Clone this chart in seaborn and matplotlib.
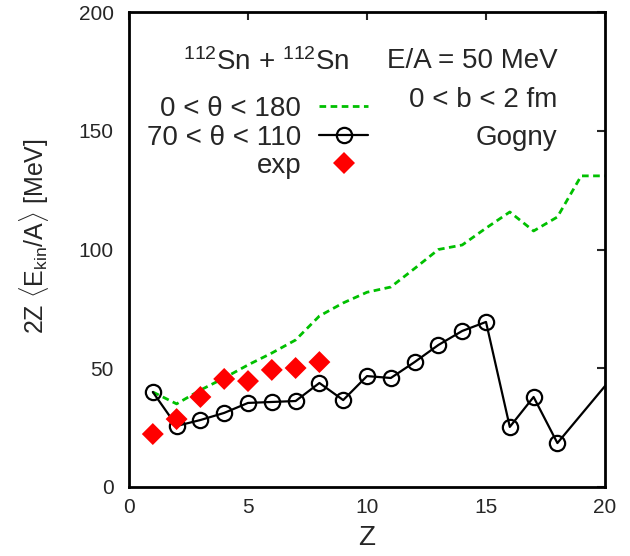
import matplotlib
matplotlib.use("Agg")
import matplotlib.pyplot as plt
import seaborn as sns
import pandas as pd
from matplotlib.lines import Line2D

# ---- data ----
z_all = [1, 2, 3, 4, 5, 6, 7, 8, 9, 10, 11, 12, 13, 14, 15, 16, 17, 18, 19, 20]
e_all = [40, 35, 40.8, 45.9, 51.4, 56.4, 61.9, 72, 77.5, 82, 84.2, 92, 100, 101.9,
         109, 115.8, 107.8, 113.7, 131, 131]

z_perp = [1, 2, 3, 4, 5, 6, 7, 8, 9, 10, 11, 12, 13, 14, 15, 16, 17, 18, 21]
e_perp = [40, 25.7, 28.2, 31.2, 35.4, 35.8, 36.2, 43.8, 36.6, 46.7, 45.9, 52.6,
          59.8, 65.7, 69.5, 25.3, 37.9, 18.5, 54.5]

z_exp = [1, 2, 3, 4, 5, 6, 7, 8]
e_exp = [22.3, 28.6, 37.9, 45.5, 44.6, 49.3, 50.1, 52.6]

x_ticks = [0, 5, 10, 15, 20]
y_ticks = [0, 50, 100, 150, 200]

sns.set_style("white")
plt.rcParams['font.family'] = ['Liberation Sans', 'DejaVu Sans']
plt.rcParams['mathtext.fontset'] = 'custom'
plt.rcParams['mathtext.rm'] = 'Liberation Sans'
plt.rcParams['mathtext.it'] = 'Liberation Sans'

fig = plt.figure(figsize=(6.3, 5.56), dpi=100)
ax = fig.add_axes([129/630, 1-487/556, (605-129)/630, (487-12)/556])

green = "#00c000"
df_all = pd.DataFrame({"Z": z_all, "E": e_all})
df_perp = pd.DataFrame({"Z": z_perp, "E": e_perp})
df_exp = pd.DataFrame({"Z": z_exp, "E": e_exp})

sns.lineplot(data=df_all, x="Z", y="E", ax=ax, color=green, lw=2.0,
             linestyle=(0, (2.4, 1.6)))
sns.lineplot(data=df_perp, x="Z", y="E", ax=ax, color="black", lw=1.6,
             marker="o", markersize=11, markerfacecolor="none",
             markeredgecolor="black", markeredgewidth=1.6)
sns.scatterplot(data=df_exp, x="Z", y="E", ax=ax, color="red", marker="D",
                s=125, edgecolor="none", zorder=5)

ax.set_xlim(0, 20)
ax.set_ylim(0, 200)
ax.set_xticks(x_ticks)
ax.set_yticks(y_ticks)
ax.tick_params(direction="in", length=6, width=1.5, top=True, right=True,
               labelsize=15)
ax.tick_params(axis="x", pad=8)
ax.tick_params(axis="y", pad=11)
for s in ax.spines.values():
    s.set_linewidth(2)
    s.set_color("black")

ax.set_xlabel("Z", fontsize=20, labelpad=6)
ax.set_ylabel(r"2Z $\langle$E$_{\rm kin}$/A$\rangle$ [MeV]", fontsize=18)
ax.yaxis.set_label_coords(-0.164, 0.528)

handles = [
    Line2D([], [], color=green, lw=2.0, linestyle=(0, (2.4, 1.6))),
    Line2D([], [], color="black", lw=1.6, marker="o", markersize=11,
           markerfacecolor="none", markeredgewidth=1.6),
    Line2D([], [], color="red", lw=0, marker="D", markersize=11, markeredgewidth=0),
]
labels = [r"0 < θ < 180", r"70 < θ < 110", "exp"]
leg = ax.legend(handles, labels, markerfirst=False, frameon=False, fontsize=20,
                loc="upper right", bbox_to_anchor=(0.502, 0.823), handlelength=1.75,
                handletextpad=0.65, labelspacing=0.09, borderaxespad=0,
                borderpad=0)

ax.text(0.288, 0.878, r"$^{112}$Sn + $^{112}$Sn", transform=ax.transAxes,
        fontsize=20, ha="center", va="baseline")
ax.text(0.9, 0.882, "E/A = 50 MeV", transform=ax.transAxes, fontsize=20,
        ha="right", va="baseline")
ax.text(0.9, 0.800, "0 < b < 2 fm", transform=ax.transAxes, fontsize=20,
        ha="right", va="baseline")
ax.text(0.9, 0.720, "Gogny", transform=ax.transAxes, fontsize=20,
        ha="right", va="baseline")

fig.savefig("out.png", dpi=100)
